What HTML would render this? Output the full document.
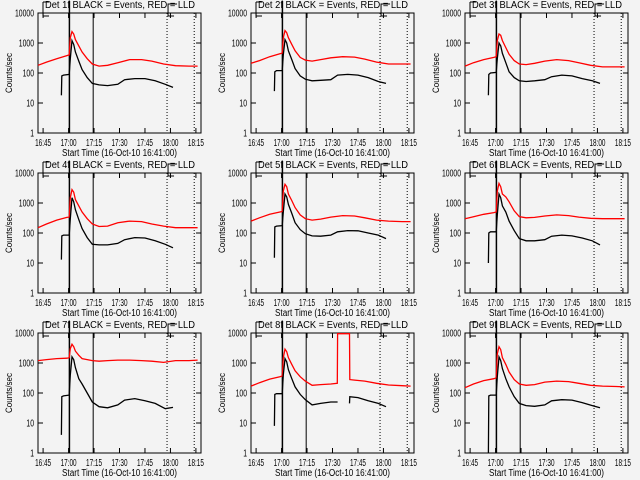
<!DOCTYPE html>
<html><head><meta charset="utf-8">
<style>
html,body{margin:0;padding:0;background:#f3f3f3;}
svg{display:block;font-family:"Liberation Sans",sans-serif;}
</style></head>
<body>
<svg id="chart" width="640" height="480" viewBox="0 0 640 480">
<rect width="640" height="480" fill="#f3f3f3"/>
</svg>
<script>
// time in minutes after 16:41:00
const xTickLabels = ["16:45","17:00","17:15","17:30","17:45","18:00","18:15"];
const xTickTimes = [4,19,34,49,64,79,94];
const yTickValues = [1,10,100,1000,10000];
const yTickLabels = ["1","10","100","1000","10000"];
const detNames = ["1f","2f","3f","4f","5f","6f","7f","8f","9f"];
const solidLines = [19.5,33.5];
const dottedLines = [77,93];
const redT = [1,6,12,18,19.4,20,21,22,23,25,27,30,33,37,42,48,55,62,68,75,82,90,95];
const blackT = [14.8,15,16,19.4,20,21,22,23,25,27,30,33,37,42,48,52,58,64,70,76,80.5];
const red1 = [180,230,300,380,400,1500,2400,2000,1300,800,500,300,200,170,180,220,280,280,250,200,175,170,170];
const black1 = [18,80,85,90,300,1200,900,500,250,130,70,45,40,38,42,60,65,65,55,42,33];
const red2 = [210,260,350,440,460,1500,2600,2200,1500,900,550,330,270,250,280,320,350,340,290,230,200,200,200];
const black2 = [25,110,120,120,400,1300,1000,550,280,140,80,62,55,57,60,85,90,85,70,52,45];
const red3 = [170,220,280,330,350,1200,2000,1800,1200,700,420,260,200,190,210,250,280,260,220,180,160,160,160];
const black3 = [18,90,100,105,300,1000,800,450,220,110,70,55,52,55,60,75,85,80,65,55,45];
const red4 = [150,200,270,330,340,1500,2800,2300,1300,800,500,300,200,165,170,220,250,240,200,170,150,150,150];
const black4 = [13,80,85,85,300,1500,1100,600,280,140,70,42,40,40,45,60,70,68,55,42,32];
const red5 = [250,320,420,500,520,2500,4200,3500,2000,1200,700,400,300,270,290,340,380,370,320,270,250,240,240];
const black5 = [15,160,170,175,500,2000,1600,900,450,220,130,95,80,78,85,110,120,118,100,85,65];
const red6 = [300,350,420,480,500,2500,4500,3500,2000,1600,1100,550,350,320,330,370,400,380,340,310,300,300,300];
const black6 = [10,100,110,110,400,2000,1500,800,500,250,120,65,55,55,60,78,85,80,68,55,40];
const red7 = [1200,1300,1400,1450,1500,3000,4200,3500,2500,1800,1400,1300,1200,1150,1200,1250,1250,1200,1150,1050,1200,1200,1250];
const black7 = [4,75,80,85,400,1600,1300,700,300,200,100,50,35,32,40,58,65,55,45,30,33];
const red8T = [1,6,12,18,19.4,20,21,22,23,25,27,30,33,37,42,48,51.8,52,59,59.2,62,68,75,82,90,95];
const red8 = [170,220,290,350,370,1500,2900,2400,1500,900,550,350,250,180,190,200,210,9500,9500,280,270,250,210,185,175,170];
const black8T = [14.8,15,16,19.4,20,21,22,23,25,27,30,33,37,42,48,52,55,59,59.2,64,70,76,80.5];
const black8 = [8,90,95,95,400,1400,1100,600,300,160,90,60,40,45,50,50,null,45,75,70,55,45,35];
const red9 = [150,200,260,300,320,2000,3500,2800,1500,900,500,280,200,180,190,230,250,240,210,180,170,165,160];
const black9 = [1,80,85,85,350,1600,1200,650,300,160,75,45,38,36,40,55,60,58,48,38,32];

const redTimes = [redT,redT,redT,redT,redT,redT,redT,red8T,redT];
const redVals = [red1,red2,red3,red4,red5,red6,red7,red8,red9];
const blackTimes = [blackT,blackT,blackT,blackT,blackT,blackT,blackT,black8T,blackT];
const blackVals = [black1,black2,black3,black4,black5,black6,black7,black8,black9];

const NS = "http://www.w3.org/2000/svg";
const svg = document.getElementById("chart");
const XMIN = 1, XMAX = 97, BOXW = 163, BOXH = 120;
const lefts = [38,251,465];
function mk(tag, attrs, parent){
  const e = document.createElementNS(NS, tag);
  for (const k in attrs) e.setAttribute(k, attrs[k]);
  parent.appendChild(e);
  return e;
}
for (let p = 0; p < 9; p++){
  const L = lefts[p % 3], T = 13 + 160 * Math.floor(p / 3), B = T + BOXH, R = L + BOXW;
  const xs = t => L + (t - XMIN) / (XMAX - XMIN) * BOXW;
  const ys = v => B - Math.log10(Math.max(v, 1)) / 4 * BOXH;
  const g = mk("g", {}, svg);
  
  
  // title
  const title = mk("text", {x: L + 7, y: T - 5, "font-size": 10.5, textLength: 150, lengthAdjust: "spacingAndGlyphs", fill: "#000"}, g);
  title.textContent = "Det " + detNames[p] + " BLACK = Events, RED = LLD";
  
  
  // bracket marks
  mk("path", {d: `M${L+5},${T-11} H${L+11} M${L+5},${T-11} V${T+3} H${L+11}`, stroke: "#000", fill: "none", "stroke-width": 1}, g);
  const bx = xs(77) + 1;
  mk("path", {d: `M${bx+9},${T-9} H${bx} V${T+3} H${bx+6}`, stroke: "#000", fill: "none", "stroke-width": 1}, g);
  // box
  const box = mk("rect", {x: L, y: T, width: BOXW, height: BOXH, fill: "none", stroke: "#000", "stroke-width": 1}, g);
  
  
  // y ticks
  for (let i = 0; i < yTickValues.length; i++){
    const y = ys(yTickValues[i]);
    mk("path", {d: `M${L},${y} h5 M${R},${y} h-5`, stroke: "#000"}, g);
    const lb = mk("text", {x: L - 4, y: y + 3.5, "font-size": 10, "text-anchor": "end", textLength: yTickLabels[i].length * 3.8, lengthAdjust: "spacingAndGlyphs"}, g);
    lb.textContent = yTickLabels[i];
    
    
  }
  // x ticks
  for (let i = 0; i < xTickTimes.length; i++){
    const x = xs(xTickTimes[i]);
    mk("path", {d: `M${x},${B} v-5 M${x},${T} v5`, stroke: "#000"}, g);
    const lb = mk("text", {x: x, y: B + 13, "font-size": 10, "text-anchor": "middle", textLength: 16, lengthAdjust: "spacingAndGlyphs"}, g);
    lb.textContent = xTickLabels[i];
    
    
  }
  const xt = mk("text", {x: L + BOXW / 2, y: B + 23, "font-size": 10, "text-anchor": "middle", textLength: 115, lengthAdjust: "spacingAndGlyphs"}, g);
  xt.textContent = "Start Time (16-Oct-10 16:41:00)";
  
  
  const yt = mk("text", {x: 0, y: 0, "font-size": 9.5, "text-anchor": "middle", textLength: 40, lengthAdjust: "spacingAndGlyphs", transform: `translate(${L-26},${T+BOXH/2}) rotate(-90)`}, g);
  yt.textContent = "Counts/sec";
  
  
  // reference lines
  const s0 = mk("line", {x1: xs(solidLines[0]), x2: xs(solidLines[0]), y1: T - 12, y2: B, stroke: "#000", "stroke-width": 1.5}, g);
  
  
  const s1 = mk("line", {x1: xs(solidLines[1]), x2: xs(solidLines[1]), y1: T, y2: B, stroke: "#000", "stroke-width": 1}, g);
  
  
  for (const dt of dottedLines){
    const d = mk("line", {x1: xs(dt), x2: xs(dt), y1: T, y2: B, stroke: "#000", "stroke-width": 1, "stroke-dasharray": "1,2"}, g);
    
    
  }
  // series
  function series(times, vals, color, name){
    let d = "", pen = false;
    for (let i = 0; i < times.length; i++){
      if (vals[i] === null){ pen = false; continue; }
      d += (pen ? "L" : "M") + xs(times[i]).toFixed(1) + "," + ys(vals[i]).toFixed(1);
      pen = true;
    }
    const path = mk("path", {d: d, stroke: color, fill: "none", "stroke-width": 1.3}, g);
    
    
  }
  series(redTimes[p], redVals[p], "#ff0000", "lld-red-series");
  series(blackTimes[p], blackVals[p], "#000000", "events-black-series");
}
</script>
</body></html>
